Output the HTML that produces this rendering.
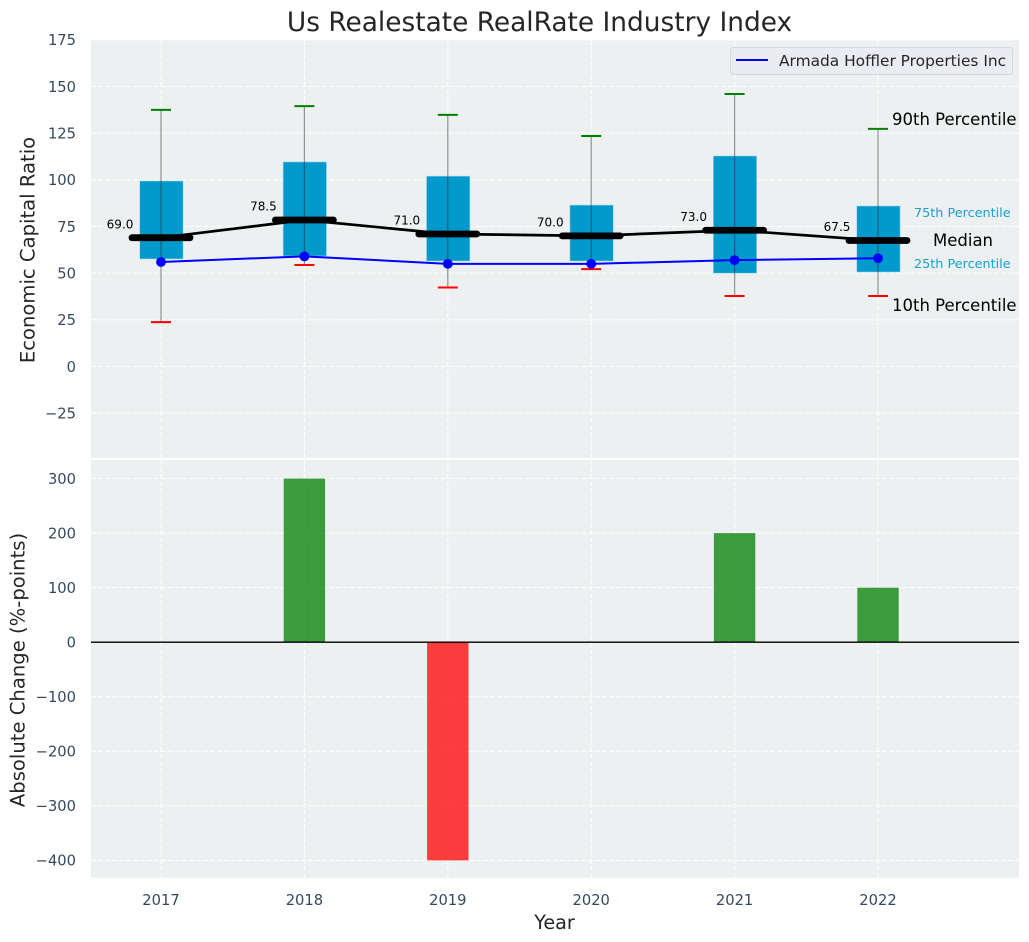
<!DOCTYPE html>
<html lang="en">
<head>
<meta charset="utf-8">
<title>Us Realestate RealRate Industry Index</title>
<style>
html,body{margin:0;padding:0;background:#fff;width:1029px;height:942px;overflow:hidden}
svg{display:block;font-family:"DejaVu Sans","Liberation Sans",sans-serif}
</style>
</head>
<body>
<svg id="chart" width="1029" height="942" viewBox="0 0 1029 942" xmlns="http://www.w3.org/2000/svg">
  <rect x="91" y="40" width="928" height="418" fill="#ecf0f1"/>
  <rect x="91" y="460" width="928" height="418" fill="#ecf0f1"/>
  <g id="grid"></g>
  <g id="bars"></g>
  <g id="boxes"></g>
  <g id="medians"></g>
  <g id="company"></g>
  <g id="ticks"></g>

  <text x="539.5" y="31" font-size="26.4" text-anchor="middle" fill="#262626">Us Realestate RealRate Industry Index</text>
  <text transform="translate(34.5,250) rotate(-90)" font-size="19.6" text-anchor="middle" fill="#262626">Economic Capital Ratio</text>
  <text transform="translate(24.5,670) rotate(-90)" font-size="19.6" text-anchor="middle" fill="#262626">Absolute Change (%-points)</text>
  <text x="554.5" y="929" font-size="19.2" text-anchor="middle" fill="#262626">Year</text>

  <g>
    <rect x="730.5" y="47.5" width="282" height="27" rx="3" fill="#eaecf1" stroke="#d5d7db" stroke-width="1"/>
    <line x1="736" y1="60" x2="768" y2="60" stroke="#0000ff" stroke-width="2"/>
    <text x="779" y="66" font-size="15.4" fill="#262626">Armada Hoffler Properties Inc</text>
  </g>

  <g>
    <text x="892" y="125" font-size="16.5" fill="#000">90th Percentile</text>
    <text x="914" y="217" font-size="12.8" fill="#1a9fce">75th Percentile</text>
    <text x="933" y="246" font-size="16.5" fill="#000">Median</text>
    <text x="914" y="268" font-size="12.8" fill="#1a9fce">25th Percentile</text>
    <text x="892" y="311" font-size="16.5" fill="#000">10th Percentile</text>
  </g>
</svg>
<script>
const years = [2017, 2018, 2019, 2020, 2021, 2022];
const p90 = [137.5, 139.5, 134.8, 123.5, 146, 127.3];
const p75 = [99.4, 109.6, 102, 86.5, 112.8, 86];
const medianValues = [69, 78.5, 71, 70, 73, 67.5];
const medianLabels = ['69.0', '78.5', '71.0', '70.0', '73.0', '67.5'];
const p25 = [57.6, 59.2, 56.5, 56.5, 50, 50.6];
const p10 = [23.8, 54.4, 42.3, 52.2, 37.8, 37.8];
const companyValues = [56, 59, 55, 55, 57, 58];
const changeValues = [0, 300, -400, 0, 200, 100];
const topTicks = [175, 150, 125, 100, 75, 50, 25, 0, -25];
const bottomTicks = [300, 200, 100, 0, -100, -200, -300, -400];

const NS = 'http://www.w3.org/2000/svg';
const xScale = function (year) { return 161 + (year - 2017) * 143.4; };
const yTop = function (v) { return 366.5 - v * 1.8665; };
const yBottom = function (v) { return 642.2 - v * 0.5455; };
const make = function (parent, tag, props) {
  const el = document.createElementNS(NS, tag);
  Object.keys(props).forEach(function (k) { el.setAttribute(k, props[k]); });
  document.getElementById(parent).appendChild(el);
  return el;
};
const minus = function (v) { return String(v).replace('-', '\u2212'); };

topTicks.forEach(function (t) {
  const line = make('grid', 'line', {x1: 91, x2: 1019, y1: yTop(t), y2: yTop(t), stroke: '#fff', 'stroke-width': 1, 'stroke-dasharray': '5 2'});
  
  
  const label = make('ticks', 'text', {x: 76, y: yTop(t) + 5.3, 'font-size': 14.7, 'text-anchor': 'end', fill: '#34495e'});
  label.textContent = minus(t);
  
  
});
bottomTicks.forEach(function (t) {
  const line = make('grid', 'line', {x1: 91, x2: 1019, y1: yBottom(t), y2: yBottom(t), stroke: '#fff', 'stroke-width': 1, 'stroke-dasharray': '5 2'});
  
  
  const label = make('ticks', 'text', {x: 76, y: yBottom(t) + 5.3, 'font-size': 14.7, 'text-anchor': 'end', fill: '#34495e'});
  label.textContent = minus(t);
  
  
});
years.forEach(function (yr) {
  const x = xScale(yr);
  const upper = make('grid', 'line', {x1: x, x2: x, y1: 40, y2: 458, stroke: '#fff', 'stroke-width': 1, 'stroke-dasharray': '5 2'});
  
  
  const lower = make('grid', 'line', {x1: x, x2: x, y1: 460, y2: 878, stroke: '#fff', 'stroke-width': 1, 'stroke-dasharray': '5 2'});
  
  
  const label = make('ticks', 'text', {x: x, y: 905, 'font-size': 14.7, 'text-anchor': 'middle', fill: '#34495e'});
  label.textContent = yr;
  
  
});

changeValues.forEach(function (v, i) {
  if (v === 0) return;
  const y0 = yBottom(0), y1 = yBottom(v);
  const bar = make('bars', 'rect', {x: xScale(years[i]) - 20.7, y: Math.min(y0, y1), width: 41.4, height: Math.abs(y1 - y0), fill: v > 0 ? '#008000' : '#ff0000', 'fill-opacity': 0.75});
  
  
});
const zero = make('bars', 'line', {x1: 91, x2: 1019, y1: yBottom(0), y2: yBottom(0), stroke: '#000', 'stroke-width': 1.4});



years.forEach(function (yr, i) {
  const x = xScale(yr);
  const box = make('boxes', 'rect', {x: x - 21.3, y: yTop(p75[i]), width: 43.4, height: yTop(p25[i]) - yTop(p75[i]), fill: '#0099cc', stroke: '#a9dcee', 'stroke-width': 0.6});
  
  
  const whisker = make('boxes', 'line', {x1: x, x2: x, y1: yTop(p90[i]), y2: yTop(p10[i]), stroke: '#2b2b2b', 'stroke-opacity': 0.5, 'stroke-width': 1.2});
  
  
  const capTop = make('boxes', 'line', {x1: x - 10, x2: x + 10, y1: yTop(p90[i]), y2: yTop(p90[i]), stroke: '#008000', 'stroke-width': 2});
  
  
  const capBottom = make('boxes', 'line', {x1: x - 10, x2: x + 10, y1: yTop(p10[i]), y2: yTop(p10[i]), stroke: '#ff0000', 'stroke-width': 2});
  
  
});

const medianTrend = make('medians', 'polyline', {points: years.map(function (yr, i) { return xScale(yr) + ',' + yTop(medianValues[i]); }).join(' '), fill: 'none', stroke: '#000', 'stroke-width': 2.7});


years.forEach(function (yr, i) {
  const x = xScale(yr), y = yTop(medianValues[i]);
  const bar = make('medians', 'line', {x1: x - 29, x2: x + 29, y1: y, y2: y, stroke: '#000', 'stroke-width': 6.8, 'stroke-linecap': 'round'});
  
  
  const label = make('medians', 'text', {x: x - 27.6, y: y - 9.3, 'font-size': 12, 'text-anchor': 'end', fill: '#000'});
  label.textContent = medianLabels[i];
  
  
});

const companyLine = make('company', 'polyline', {points: years.map(function (yr, i) { return xScale(yr) + ',' + yTop(companyValues[i]); }).join(' '), fill: 'none', stroke: '#0000ff', 'stroke-width': 2});


years.forEach(function (yr, i) {
  const dot = make('company', 'circle', {cx: xScale(yr), cy: yTop(companyValues[i]), r: 4.9, fill: '#0000ff'});
  
  
});
</script>
</body>
</html>
